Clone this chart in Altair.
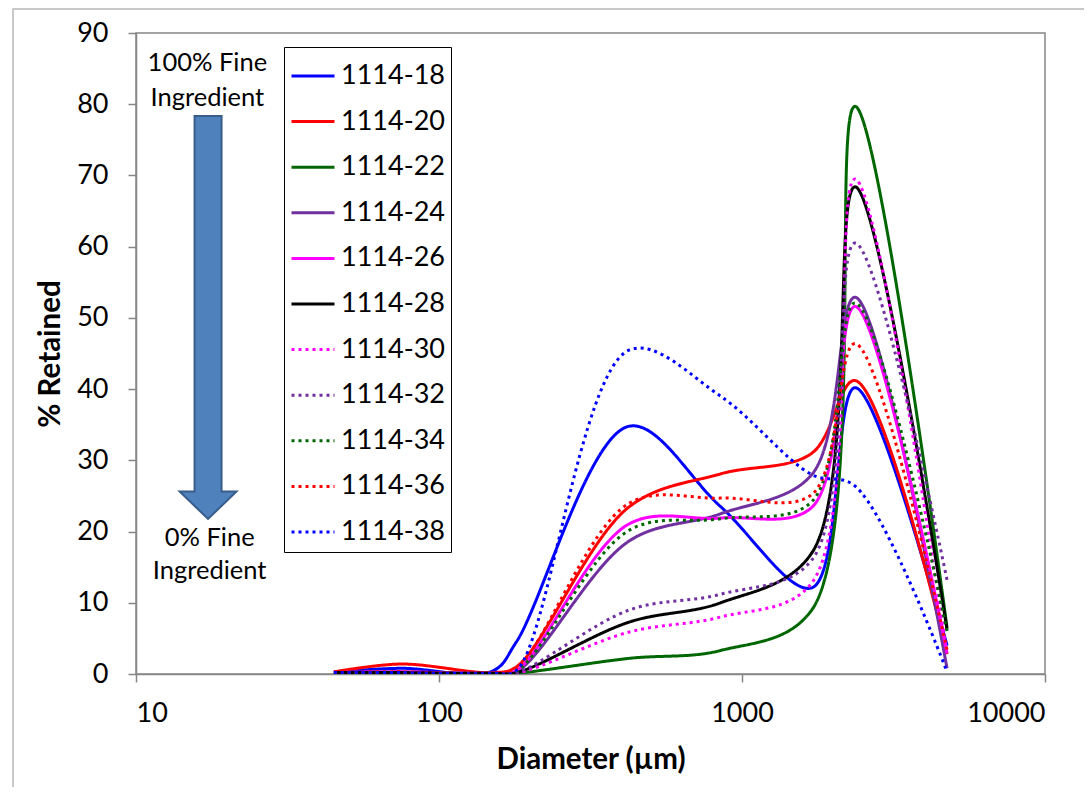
import altair as alt
import pandas as pd

# Sieve sizes (µm)
sizes = [45, 75, 150, 180, 425, 850, 1700, 2360, 4750]

names = ["1114-18", "1114-20", "1114-22", "1114-24", "1114-26", "1114-28",
         "1114-30", "1114-32", "1114-34", "1114-36", "1114-38"]

s18 = [0.3, 0.8, 0.4, 4.5, 34.8, 23.5, 12.1, 40.2, 4.0]
s20 = [0.3, 1.4, 0.2, 1.0, 23.5, 28.1, 31.0, 41.2, 2.8]
s22 = [0.1, 0.1, 0.0, 0.1, 2.2, 3.3, 9.0, 79.7, 6.5]
s24 = [0.2, 0.3, 0.1, 0.3, 18.7, 22.5, 28.0, 52.9, 0.8]
s26 = [0.2, 0.3, 0.1, 0.5, 21.1, 21.9, 23.4, 51.6, 2.9]
s28 = [0.2, 0.2, 0.1, 0.2, 7.3, 10.0, 17.0, 68.4, 6.2]
s30 = [0.2, 0.2, 0.1, 0.1, 5.9, 8.0, 12.8, 69.5, 2.7]
s32 = [0.2, 0.2, 0.1, 0.2, 9.0, 11.2, 16.0, 60.5, 13.2]
s34 = [0.2, 0.2, 0.1, 0.4, 20.2, 21.8, 24.2, 52.1, 6.0]
s36 = [0.2, 0.3, 0.1, 0.8, 24.0, 24.7, 25.2, 46.4, 3.4]
s38 = [0.2, 0.2, 0.1, 0.5, 45.5, 39.0, 28.0, 26.4, 0.3]

series = [s18, s20, s22, s24, s26, s28, s30, s32, s34, s36, s38]

colors = ["#0000FF", "#FF0000", "#006600", "#7030A0", "#FF00FF", "#000000",
          "#FF00FF", "#7030A0", "#006600", "#FF0000", "#0000FF"]
dashes = [[1, 0]] * 6 + [[3, 4]] * 5

x_ticks = [10, 100, 1000, 10000]
y_ticks = [0, 10, 20, 30, 40, 50, 60, 70, 80, 90]

rows = []
for n, vals in zip(names, series):
    for s, v in zip(sizes, vals):
        rows.append({"sample": n, "diameter": s, "retained": v})
df = pd.DataFrame(rows)

FONT = "Lato"

lines = alt.Chart(df).mark_line(
    interpolate="catmull-rom", strokeWidth=3, clip=True
).encode(
    x=alt.X("diameter:Q",
            scale=alt.Scale(type="log", domain=[10, 10000], nice=False),
            axis=alt.Axis(values=x_ticks, format="d", title="Diameter (µm)",
                          grid=False, tickSize=8, labelPadding=18,
                          titlePadding=19)),
    y=alt.Y("retained:Q",
            scale=alt.Scale(domain=[0, 90], nice=False),
            axis=alt.Axis(values=y_ticks, title="% Retained", grid=False,
                          tickSize=8, labelPadding=20, titlePadding=11)),
    color=alt.Color("sample:N",
                    scale=alt.Scale(domain=names, range=colors),
                    title=None,
                    legend=alt.Legend(orient="none", legendX=148, legendY=14,
                                      symbolType="stroke", symbolSize=1849,
                                      symbolStrokeWidth=3, labelFontSize=27,
                                      labelFont=FONT, labelColor="black",
                                      rowPadding=9.6, labelOffset=5,
                                      padding=6, strokeColor="black",
                                      fillColor="white")),
    strokeDash=alt.StrokeDash("sample:N",
                              scale=alt.Scale(domain=names, range=dashes),
                              title=None),
    detail="sample:N",
)

# Annotation arrow (blue block arrow) and texts
arrow_df = pd.DataFrame({"diameter": [17.29], "retained": [50.06]})
arrow_path = ("M-0.067,-1 L0.067,-1 L0.067,0.864 L0.141,0.864 L0,1 "
              "L-0.141,0.864 L-0.067,0.864 Z")
arrow = alt.Chart(arrow_df).mark_point(
    shape=arrow_path, size=162409, filled=True, fill="#4F81BD",
    stroke="#385D8A", strokeWidth=2, opacity=1
).encode(x="diameter:Q", y="retained:Q")

ann_text = ["100% Fine", "Ingredient", "0% Fine", "Ingredient"]
ann_x = [17.2, 17.2, 17.5, 17.5]
ann_y = [85.8, 80.9, 19.1, 14.4]
ann_df = pd.DataFrame({"label": ann_text, "diameter": ann_x, "retained": ann_y})
ann = alt.Chart(ann_df).mark_text(
    font=FONT, fontSize=25.5, color="black", align="center", baseline="middle"
).encode(x="diameter:Q", y="retained:Q", text="label:N")

# outer chart border
border = alt.Chart(pd.DataFrame({"k": [0]})).mark_rect(
    fill=None, stroke="#b8b8b8", strokeWidth=1.5
).encode(x=alt.value(-123), x2=alt.value(951), y=alt.value(-24),
         y2=alt.value(757))

chart = alt.layer(border, lines, arrow, ann).properties(
    width=909, height=641,
    autosize=alt.AutoSizeParams(type="none"),
    padding={"left": 128, "top": 25, "right": 39, "bottom": 113},
).configure_view(
    stroke="#868686", strokeWidth=1.5
).configure_axis(
    domainColor="#868686", tickColor="#868686", domainWidth=1.5,
    tickWidth=1.5, labelFont=FONT, labelFontSize=27, labelColor="black",
    titleFont=FONT, titleFontSize=29.5, titleFontWeight="bold",
    titleColor="black"
)

chart.save("out.html", embed_options={"renderer": "svg", "actions": False})
